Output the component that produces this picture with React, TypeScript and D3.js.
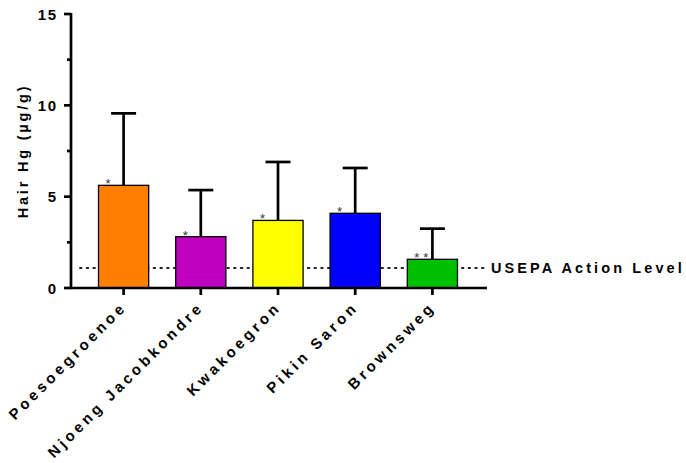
import React from "react";
import * as d3 from "d3";

const sites = ["Poesoegroenoe", "Njoeng Jacobkondre", "Kwakoegron", "Pikin Saron", "Brownsweg"];
const means = [5.62, 2.81, 3.70, 4.09, 1.57];
const upperSD = [9.56, 5.36, 6.90, 6.57, 3.25];
const colors = ["#ff7f00", "#bf00bf", "#ffff00", "#0000ff", "#00bf00"];
const stars = ["*", "*", "*", "*", "**"];
const majorTicks = [0, 5, 10, 15];
const minorTicks = [2.5, 7.5, 12.5];
const actionLevel = 1.1;

const W = 686;
const H = 463;
const axisX = 71;
const axisEnd = 487;

export default function App() {
  const y = d3.scaleLinear().domain([0, 15]).range([288, 14]);
  const x = d3.scaleBand<string>().domain(sites).range([85, 471]).paddingInner(0.35).paddingOuter(0.175);
  const bw = x.bandwidth();
  const font = "'Liberation Sans', Arial, sans-serif";

  return (
    <svg width={W} height={H} style={{ position: "absolute", left: 0, top: 0, background: "#fff" }}>
      {/* action level reference line */}
      <line x1={80} x2={axisEnd} y1={y(actionLevel)} y2={y(actionLevel)} stroke="#222" strokeWidth={2} strokeDasharray="1.5 5.2" strokeLinecap="round" />
      <text x={491} y={y(actionLevel) + 5.5} fontFamily={font} fontWeight="bold" fontSize={14.5} letterSpacing={3.1} fill="#000">USEPA Action Level</text>

      {/* bars */}
      {sites.map((s, i) => {
        const x0 = x(s)!;
        const cx = x0 + bw / 2;
        return (
          <g key={s}>
            <line x1={cx} x2={cx} y1={y(means[i])} y2={y(upperSD[i])} stroke="#000" strokeWidth={2.7} />
            <line x1={cx - 12.5} x2={cx + 12.5} y1={y(upperSD[i])} y2={y(upperSD[i])} stroke="#000" strokeWidth={2.7} />
            <rect x={x0} y={y(means[i])} width={bw} height={y(0) - y(means[i])} fill={colors[i]} stroke="#000" strokeWidth={1.3} />
            <text x={x0 + 7} y={y(means[i]) + 3} fontFamily={font} fontSize={13} letterSpacing={4} fill="#333">{stars[i]}</text>
          </g>
        );
      })}

      {/* y axis */}
      <line x1={axisX} x2={axisX} y1={y(15) - 1} y2={y(0) + 1} stroke="#000" strokeWidth={2.7} />
      {majorTicks.map((t) => (
        <g key={t}>
          <line x1={axisX - 7} x2={axisX} y1={y(t)} y2={y(t)} stroke="#000" strokeWidth={2.7} />
          <text x={axisX - 13} y={y(t) + 5.5} textAnchor="end" fontFamily={font} fontWeight="bold" fontSize={15} letterSpacing={1.8} fill="#000">{t}</text>
        </g>
      ))}
      {minorTicks.map((t) => (
        <line key={t} x1={axisX - 4} x2={axisX} y1={y(t)} y2={y(t)} stroke="#000" strokeWidth={2.7} />
      ))}
      <text transform={`translate(28,${(y(0) + y(15)) / 2 + 0}) rotate(-90)`} textAnchor="middle" fontFamily={font} fontWeight="bold" fontSize={14.5} letterSpacing={2.8} fill="#000">Hair Hg (µg/g)</text>

      {/* x axis */}
      <line x1={axisX - 1} x2={axisEnd} y1={y(0)} y2={y(0)} stroke="#000" strokeWidth={2.7} />
      {sites.map((s) => {
        const cx = x(s)! + bw / 2;
        return (
          <g key={s}>
            <line x1={cx} x2={cx} y1={y(0)} y2={y(0) + 7} stroke="#000" strokeWidth={2.7} />
            <text transform={`translate(${cx + 4},${y(0) + 20}) rotate(-45)`} textAnchor="end" fontFamily={font} fontWeight="bold" fontSize={15} letterSpacing={3.6} fill="#000">{s}</text>
          </g>
        );
      })}
    </svg>
  );
}
